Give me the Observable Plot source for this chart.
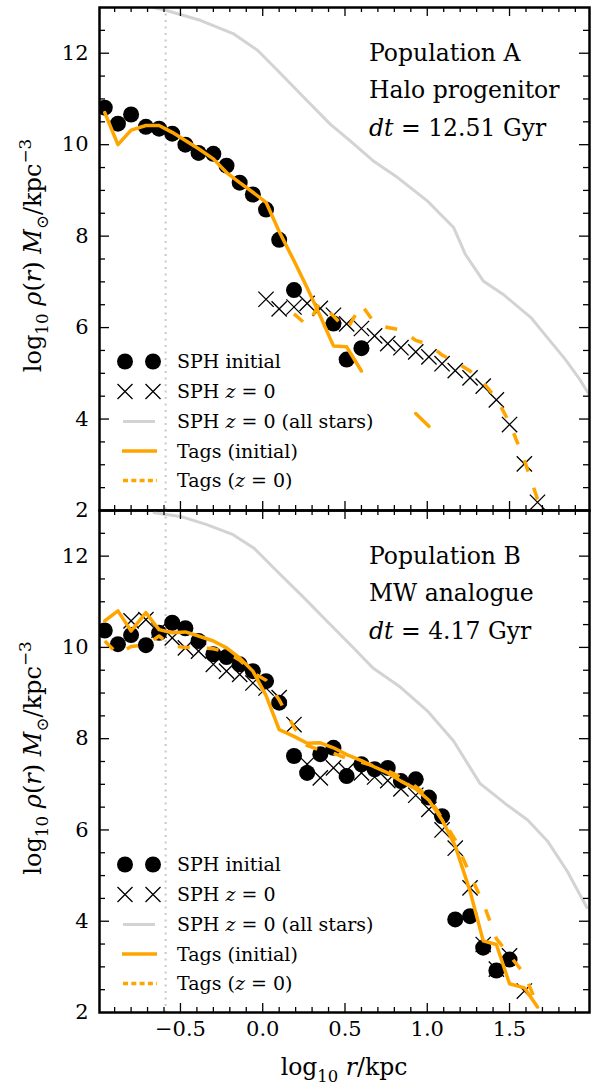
<!DOCTYPE html>
<html>
<head>
<meta charset="utf-8">
<script src="https://cdn.jsdelivr.net/npm/d3@7"></script>
<script src="https://cdn.jsdelivr.net/npm/@observablehq/plot@0.6"></script>
<style>
  html, body { margin: 0; padding: 0; background: #fff; }
  #chart { position: relative; width: 601px; height: 1084px; }
  #chart svg { position: absolute; left: 0; overflow: visible; }
</style>
</head>
<body>
<div id="chart"></div>
<script>
// Radial bin centres, log10 r/kpc
const rBins = [-0.96, -0.88, -0.80, -0.71, -0.63, -0.55, -0.47, -0.39, -0.30, -0.22, -0.14, -0.06,
               0.02, 0.10, 0.19, 0.27, 0.35, 0.43, 0.51, 0.60, 0.68, 0.76, 0.84, 0.93,
               1.01, 1.09, 1.17, 1.26, 1.34, 1.42, 1.50, 1.59, 1.67, 1.75];

// Population A (halo progenitor), log10 rho per bin (null = empty bin)
const aSphInitial = [10.81, 10.46, 10.66, 10.39, 10.35, 10.24, 10.00, 9.82, 9.80, 9.54, 9.17, 8.91,
                     8.58, 7.92, 6.82, null, null, 6.09, 5.30, 5.55, null, null, null, null,
                     null, null, null, null, null, null, null, null, null, null];
const aSphZ0 = [null, null, null, null, null, null, null, null, null, null, null, null,
                6.62, 6.41, 6.45, 6.53, 6.42, 6.27, 6.08, 5.98, 5.82, 5.65, 5.56, 5.47,
                5.36, 5.21, 5.06, 4.90, 4.72, 4.42, 3.88, 3.02, 2.18, null];
const aTagsInitial = [10.70, 10.00, 10.32, 10.42, 10.42, 10.27, 10.09, 9.91, 9.69, 9.39, 9.17, 8.96,
                      8.74, 8.10, 7.46, 6.87, 6.25, 5.60, 5.58, 5.05, null, null, null, 4.12,
                      3.84, null, null, null, null, null, null, null, null, null];
const aTagsZ0 = [null, null, null, null, null, null, null, null, null, null, null, null,
                 null, null, 6.30, 6.05, 6.55, 6.25, 5.95, 6.50, 6.10, 6.00, 5.95, 5.72,
                 5.63, 5.40, 5.25, 5.05, 4.80, 4.45, 3.92, 3.10, 2.25, 2.15];
const aAllStarsR   = [-0.66, -0.58, -0.38, -0.18, -0.03, 0.11, 0.27, 0.41, 0.53, 0.67, 0.82,
                      1.00, 1.16, 1.23, 1.34, 1.46, 1.63, 1.73, 1.84, 1.93, 1.99];
const aAllStarsRho = [13.00, 12.93, 12.72, 12.43, 12.06, 11.55, 10.96, 10.45, 10.09, 9.65, 9.28,
                      8.77, 8.19, 7.61, 7.02, 6.73, 6.22, 5.78, 5.30, 4.85, 4.50];

// Population B (MW analogue)
const bSphInitial = [10.37, 10.07, 10.27, 10.05, 10.32, 10.54, 10.42, 10.14, 9.85, 9.79, 9.63, 9.48,
                     9.26, 8.79, 7.62, 7.25, 7.66, 7.80, 7.18, 7.44, 7.33, 7.36, 7.07, 7.11,
                     6.71, 6.30, 4.04, 4.11, 3.42, 2.92, 3.16, null, null, null];
const bSphZ0 = [null, null, 10.58, 10.61, 10.38, 10.21, 9.99, 9.92, 9.63, 9.48, 9.41, 9.22,
                9.11, 8.90, 8.31, 7.44, 7.14, 7.36, 7.30, 7.25, 7.16, 7.08, 6.90, 6.76,
                6.45, 6.00, 5.60, 4.73, 3.49, 2.95, 3.24, 2.47, null, null];
const bTagsInitial = [10.58, 10.80, 10.36, 10.76, 10.39, 10.32, 10.34, 10.25, 10.14, 9.99, 9.77, 9.48,
                      8.95, 8.20, 8.05, 7.90, 7.91, 7.80, 7.65, 7.52, 7.38, 7.25, 7.07, 6.90,
                      6.65, 6.22, 5.65, 4.66, 3.57, 3.49, 2.63, 2.54, 2.12, null];
const bTagsZ0 = [10.14, 9.85, 10.02, 10.05, 10.25, 10.03, 10.00, 9.99, 9.97, 9.90, 9.72, 9.45,
                 9.28, 8.85, 8.25, 7.85, 7.75, 7.68, 7.57, 7.48, 7.40, 7.30, 7.15, 6.95,
                 6.72, 6.25, 5.78, 5.02, 4.40, 3.62, 3.25, 2.85, 2.15, null];
const bAllStarsR   = [-0.66, -0.50, -0.34, -0.18, -0.055, 0.087, 0.25, 0.37, 0.53, 0.67, 0.84,
                      1.00, 1.16, 1.32, 1.48, 1.61, 1.73, 1.85, 1.97];
const bAllStarsRho = [12.95, 12.87, 12.69, 12.47, 12.18, 11.67, 11.09, 10.65, 10.07, 9.55, 9.12,
                      8.61, 7.95, 7.02, 6.56, 6.22, 5.76, 5.10, 4.30];

// Softening length marker, log10 r/kpc
const softening = -0.59;

// Tick values
const xMajor = [-0.5, 0, 0.5, 1, 1.5];
const xMinor = [-0.9, -0.8, -0.7, -0.6, -0.4, -0.3, -0.2, -0.1, 0.1, 0.2, 0.3, 0.4,
                0.6, 0.7, 0.8, 0.9, 1.1, 1.2, 1.3, 1.4, 1.6, 1.7, 1.8, 1.9];
const yMajor = [4, 6, 8, 10, 12];
const yMinor = [2.5, 3, 3.5, 4.5, 5, 5.5, 6.5, 7, 7.5, 8.5, 9, 9.5, 10.5, 11, 11.5, 12.5];
const yLabels = [2, 4, 6, 8, 10, 12];

// Legend and panel labels
const legendLabels = [
  [{t: "SPH initial"}],
  [{t: "SPH "}, {t: "z", i: true}, {t: " = 0"}],
  [{t: "SPH "}, {t: "z", i: true}, {t: " = 0 (all stars)"}],
  [{t: "Tags (initial)"}],
  [{t: "Tags ("}, {t: "z", i: true}, {t: " = 0)"}]
];
const panelA = ["Population A", "Halo progenitor", "12.51"];
const panelB = ["Population B", "MW analogue", "4.17"];

const FONT = "'DejaVu Serif', 'Liberation Serif', serif";
const ORANGE = "#ffa500";
const LIGHT = "#d3d3d3";
const W = 601, ML = 99, MR = 12;

const rows = (ys) => rBins.map((r, i) => ({r, v: ys[i]}));
const pairs = (xs, ys) => xs.map((r, i) => ({r, v: ys[i]}));
const fmtX = (d) => d < 0 ? "\u2212" + Math.abs(d).toFixed(1) : d.toFixed(1);

// Append text made of styled runs (italic, subscript, superscript)
function rich(sel, parts, size) {
  let shift = 0;
  parts.forEach((p) => {
    const ts = sel.append("tspan").text(p.t);
    if (p.i) ts.attr("font-style", "italic");
    let target = 0;
    if (p.sub) target = 0.28 * size;
    if (p.sup) target = -0.42 * size;
    if (p.sub || p.sup) ts.attr("font-size", 0.7 * size);
    if (target !== shift) { ts.attr("dy", target - shift); shift = target; }
  });
  return sel;
}

function panel(cfg) {
  const {height, marginTop, marginBottom, circles, crosses, tagsInit, tagsZ0, allR, allRho, labels, xLabels} = cfg;
  const fh = height - marginTop - marginBottom;
  const fw = W - ML - MR;
  const tick = {stroke: "black", strokeWidth: 1.3};
  const marks = [
    Plot.ruleX([softening], {x: (d) => d, stroke: "#c8c8c8", strokeWidth: 2, strokeDasharray: "2,4.5"}),
    Plot.line(pairs(allR, allRho), {x: "r", y: "v", stroke: LIGHT, strokeWidth: 3, clip: true}),
    Plot.dot(rows(circles), {x: "r", y: "v", r: 8, fill: "black", stroke: "none", clip: true}),
    Plot.dot(rows(crosses), {x: "r", y: "v", r: 7, symbol: "times", stroke: "black", strokeWidth: 1.3, clip: true}),
    Plot.line(rows(tagsInit), {x: "r", y: "v", stroke: ORANGE, strokeWidth: 3.5, clip: true}),
    Plot.line(rows(tagsZ0), {x: "r", y: "v", stroke: ORANGE, strokeWidth: 3.5, strokeDasharray: "12,17", strokeLinecap: "butt", clip: true}),
    // inward ticks on all four sides
    Plot.ruleX(xMajor, {x: (d) => d, insetTop: fh - 9, ...tick}),
    Plot.ruleX(xMinor, {x: (d) => d, insetTop: fh - 5, ...tick}),
    Plot.ruleX(xMajor, {x: (d) => d, insetBottom: fh - 9, ...tick}),
    Plot.ruleX(xMinor, {x: (d) => d, insetBottom: fh - 5, ...tick}),
    Plot.ruleY(yMajor, {y: (d) => d, insetRight: fw - 10, ...tick}),
    Plot.ruleY(yMinor, {y: (d) => d, insetRight: fw - 6, ...tick}),
    Plot.ruleY(yMajor, {y: (d) => d, insetLeft: fw - 10, ...tick}),
    Plot.ruleY(yMinor, {y: (d) => d, insetLeft: fw - 6, ...tick}),
    Plot.frame({stroke: "black", strokeWidth: 2.5}),
    Plot.text(yLabels, {y: (d) => d, frameAnchor: "left", dx: -11, textAnchor: "end", text: (d) => String(d), fontSize: 21, fill: "black"})
  ];
  if (xLabels) {
    marks.push(Plot.text(xMajor, {x: (d) => d, frameAnchor: "bottom", dy: 23, text: fmtX, fontSize: 21, fill: "black"}));
  }
  const svg = Plot.plot({
    width: W, height, marginTop, marginBottom, marginLeft: ML, marginRight: MR,
    style: {fontFamily: FONT, background: "transparent", overflow: "visible"},
    x: {domain: [-0.992, 1.986], axis: null},
    y: {domain: [2, 13], axis: null},
    marks
  });

  const s = d3.select(svg);
  const g = s.append("g").attr("font-family", FONT).attr("fill", "black").attr("text-anchor", "start");
  const t0 = marginTop;

  // panel annotation
  const ax = 369, ab = [54, 91, 129], af = 23.5;
  g.append("text").attr("x", ax).attr("y", t0 + ab[0]).attr("font-size", af).text(labels[0]);
  g.append("text").attr("x", ax).attr("y", t0 + ab[1]).attr("font-size", af).text(labels[1]);
  rich(g.append("text").attr("x", ax).attr("y", t0 + ab[2]).attr("font-size", af),
       [{t: "dt", i: true}, {t: " = " + labels[2] + " Gyr"}], af);

  // legend
  const lb = [361, 391, 421, 450.5, 480];
  const cy = lb.map((b) => t0 + b - 6.5);
  [125, 153].forEach((x) => {
    g.append("circle").attr("cx", x).attr("cy", cy[0]).attr("r", 8).attr("fill", "black");
    g.append("path").attr("d", `M${x - 7.5},${cy[1] - 7.5}L${x + 7.5},${cy[1] + 7.5}M${x - 7.5},${cy[1] + 7.5}L${x + 7.5},${cy[1] - 7.5}`)
      .attr("stroke", "black").attr("stroke-width", 1.3).attr("fill", "none");
  });
  g.append("line").attr("x1", 123).attr("x2", 155).attr("y1", cy[2]).attr("y2", cy[2])
    .attr("stroke", LIGHT).attr("stroke-width", 3);
  g.append("line").attr("x1", 122).attr("x2", 157).attr("y1", cy[3]).attr("y2", cy[3])
    .attr("stroke", ORANGE).attr("stroke-width", 3.5);
  g.append("line").attr("x1", 123).attr("x2", 157).attr("y1", cy[4]).attr("y2", cy[4])
    .attr("stroke", ORANGE).attr("stroke-width", 3.5).attr("stroke-dasharray", "5,3.3");
  legendLabels.forEach((parts, i) => {
    rich(g.append("text").attr("x", 177).attr("y", t0 + lb[i]).attr("font-size", 19), parts, 19);
  });

  // y-axis title
  const ymid = t0 + fh / 2 - 3;
  rich(g.append("text").attr("transform", `translate(41,${ymid}) rotate(-90)`)
        .attr("text-anchor", "middle").attr("font-size", 24),
       [{t: "log"}, {t: "10", sub: true}, {t: " "}, {t: "\u03c1", i: true}, {t: "("}, {t: "r", i: true},
        {t: ") "}, {t: "M", i: true}, {t: "\u2299", sub: true}, {t: "/kpc"}, {t: "\u22123", sup: true}], 24);

  if (xLabels) {
    rich(g.append("text").attr("x", ML + fw / 2).attr("y", t0 + fh + 63)
          .attr("text-anchor", "middle").attr("font-size", 23.5),
         [{t: "log"}, {t: "10", sub: true}, {t: " "}, {t: "r", i: true}, {t: "/kpc"}], 23.5);
  }
  return svg;
}

const chart = document.getElementById("chart");
const topPanel = panel({
  height: 510, marginTop: 7, marginBottom: 0,
  circles: aSphInitial, crosses: aSphZ0, tagsInit: aTagsInitial, tagsZ0: aTagsZ0,
  allR: aAllStarsR, allRho: aAllStarsRho, labels: panelA, xLabels: false
});
topPanel.style.top = "0px";
const bottomPanel = panel({
  height: 574, marginTop: 0, marginBottom: 72,
  circles: bSphInitial, crosses: bSphZ0, tagsInit: bTagsInitial, tagsZ0: bTagsZ0,
  allR: bAllStarsR, allRho: bAllStarsRho, labels: panelB, xLabels: true
});
bottomPanel.style.top = "510px";
chart.appendChild(topPanel);
chart.appendChild(bottomPanel);
</script>
</body>
</html>
